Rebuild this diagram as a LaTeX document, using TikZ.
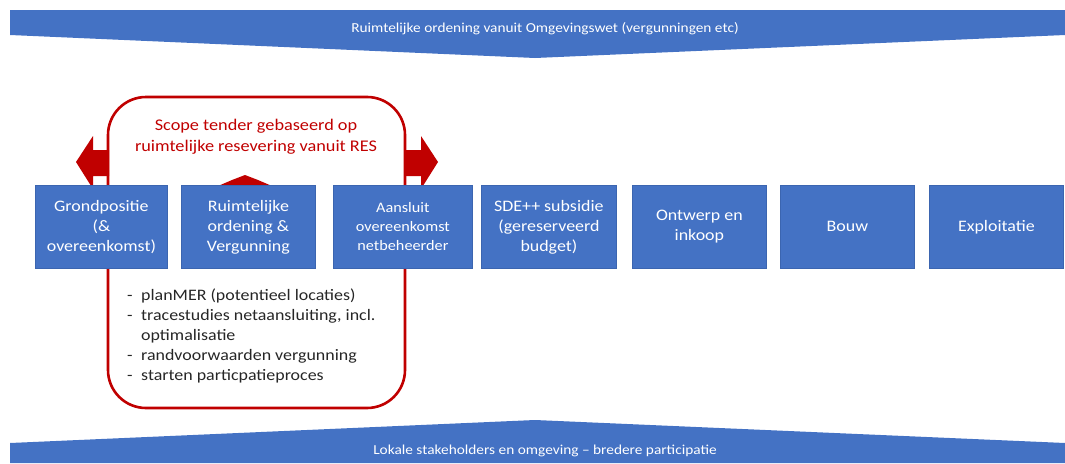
\documentclass[tikz,border=0pt]{standalone}
\usepackage{fontspec}
\setmainfont{Carlito}[FakeStretch=1.12]
\definecolor{boxblue}{HTML}{4472C4}
\definecolor{boxedge}{HTML}{3B65B0}
\definecolor{redline}{HTML}{C00000}
\definecolor{listgray}{HTML}{262626}
\tikzset{
  stage/.style={rectangle, fill=boxblue, draw=boxedge, line width=0.8pt,
    minimum height=83pt, align=center, text=white, inner sep=0pt,
    anchor=north west, font=\fontsize{16}{20}\selectfont},
  banner/.style={fill=boxblue, draw=none},
  bannertext/.style={text=white, font=\fontsize{13.7}{16}\selectfont},
  redblock/.style={fill=redline, draw=none},
  redframe/.style={draw=redline, line width=2.6pt, rounded corners=38pt},
}
\begin{document}
\begin{tikzpicture}[x=1pt,y=-1pt]
\useasboundingbox (0,0) rectangle (1065,463);
% banners
\fill[banner] (10,10) -- (1065,10) -- (1065,35) -- (535,58) -- (10,35) -- cycle;
\node[bannertext] (topban) at (545,29) {Ruimtelijke ordening vanuit Omgevingswet (vergunningen etc)};
\fill[banner] (10,443) -- (535,420) -- (1065,443) -- (1065,463) -- (10,463) -- cycle;
\node[bannertext] (botban) at (545,451) {Lokale stakeholders en omgeving – bredere participatie};
% red frame
\draw[redframe] (108,97) rectangle (405,408);
% red arrows
\fill[redblock] (109,150) -- (93,150) -- (93,136) -- (76,162) -- (93,189) -- (93,176) -- (109,176) -- cycle;
\fill[redblock] (404,150) -- (421,150) -- (421,136) -- (438,162) -- (421,189) -- (421,176) -- (404,176) -- cycle;
\fill[redblock] (218,186) -- (232,180) -- (245,175) -- (258,180) -- (272,186) -- cycle;
\node[text=redline, align=center, font=\fontsize{16.3}{21}\selectfont] (scope) at (256,137)
  {Scope tender gebaseerd op\\ruimtelijke resevering vanuit RES};
% stages
\node[stage, minimum width=132pt] (s1) at (35,185) {Grondpositie\\(\&\\overeenkomst)};
\node[stage, minimum width=134pt] (s2) at (181,185) {Ruimtelijke\\ordening \&\\Vergunning};
\node[stage, minimum width=139pt, font=\fontsize{14.5}{19}\selectfont] (s3) at (333,185) {Aansluit\\overeenkomst\\netbeheerder};
\node[stage, minimum width=135pt] (s4) at (481,185) {SDE++ subsidie\\(gereserveerd\\budget)};
\node[stage, minimum width=134pt] (s5) at (632,185) {Ontwerp en\\inkoop};
\node[stage, minimum width=134pt] (s6) at (780,185) {Bouw};
\node[stage, minimum width=134pt] (s7) at (929,185) {Exploitatie};
% list
\node[anchor=north west, align=left, text=listgray, inner sep=0pt,
  font=\fontsize{16}{19.8}\selectfont] (list) at (124,289)
  {\makebox[17pt][l]{\hspace{3pt}-}planMER (potentieel locaties)\\
   \makebox[17pt][l]{\hspace{3pt}-}tracestudies netaansluiting, incl.\\
   \hspace*{17pt}optimalisatie\\
   \makebox[17pt][l]{\hspace{3pt}-}randvoorwaarden vergunning\\
   \makebox[17pt][l]{\hspace{3pt}-}starten particpatieproces};
\end{tikzpicture}
\end{document}
